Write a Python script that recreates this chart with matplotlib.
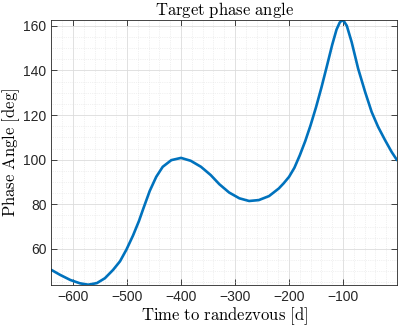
import matplotlib
matplotlib.use("Agg")
import matplotlib.pyplot as plt
from matplotlib.ticker import MultipleLocator

time_d = [-640, -624, -605, -587, -572, -556, -541, -526, -513, -501, -489, -478,
          -470, -458, -446, -434, -418, -400, -382, -363, -345, -329, -311, -292,
          -274, -256, -237, -219, -210, -200, -190, -180, -170, -160, -150, -140,
          -130, -120, -112, -106, -102, -98, -93, -84, -72, -59, -47, -35, -22,
          -10, 0]
phase_deg = [50.6, 48.4, 46.1, 44.6, 44.0, 44.7, 46.9, 50.6, 54.5, 59.8, 66.0, 72.5,
             78.0, 86.0, 92.3, 96.8, 99.8, 100.8, 99.5, 96.8, 93.1, 89.0, 85.3, 82.7,
             81.5, 81.9, 83.7, 87.1, 89.4, 92.3, 96.4, 102.0, 108.3, 115.5, 123.5,
             132.3, 141.8, 151.5, 158.3, 161.5, 162.4, 161.9, 160.0, 152.7, 140.8,
             130.3, 121.4, 114.7, 108.7, 103.5, 99.8]
xticks = [-600, -500, -400, -300, -200, -100]
yticks = [60, 80, 100, 120, 140, 160]

plt.rcParams['mathtext.fontset'] = 'cm'
plt.rcParams['font.family'] = ['Liberation Sans', 'DejaVu Sans']

fig = plt.figure(figsize=(3.99, 3.29), dpi=100)
ax = fig.add_axes([0.129, 0.134, 0.866, 0.804])
ax.plot(time_d, phase_deg, color='#0072BD', lw=1.9, solid_joinstyle='round',
        solid_capstyle='round')
ax.set_xlim(-640, 0)
ax.set_ylim(43.9, 162.4)
ax.set_xticks(xticks)
ax.set_yticks(yticks)
ax.xaxis.set_minor_locator(MultipleLocator(20))
ax.yaxis.set_minor_locator(MultipleLocator(5))
ax.grid(True, which='major', color='#dcdcdc', lw=0.6)
ax.grid(True, which='minor', color='#e3e3e3', lw=0.5, ls=':')
ax.set_axisbelow(True)
edge = '#262626'
for s in ax.spines.values():
    s.set_color(edge)
    s.set_linewidth(0.6)
ax.tick_params(which='both', direction='in', top=True, right=True, colors=edge,
               labelcolor='#262626', labelsize=10)
ax.tick_params(which='major', length=4, width=0.6)
ax.tick_params(which='minor', length=0)
ax.set_title(r'$\mathrm{Target\ phase\ angle}$', fontsize=12, color='black', pad=3)
ax.set_xlabel(r'$\mathrm{Time\ to\ randezvous\ [d]}$', fontsize=12, labelpad=1)
ax.set_ylabel(r'$\mathrm{Phase\ Angle\ [deg]}$', fontsize=12, labelpad=1)
fig.savefig('out.png', dpi=100)
